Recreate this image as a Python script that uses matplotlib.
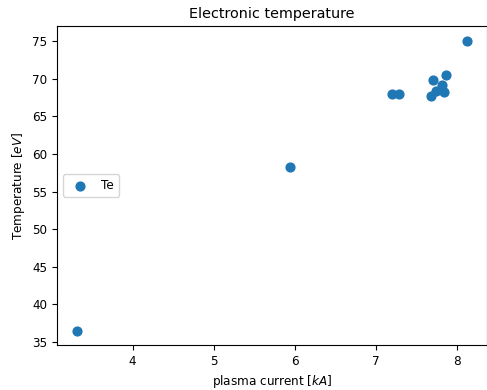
import matplotlib
matplotlib.use("Agg")
import matplotlib.pyplot as plt

current = [3.31, 5.94, 7.20, 7.28, 7.68, 7.70, 7.74, 7.81, 7.84, 7.86, 8.13]
temperature = [36.5, 58.2, 68.0, 68.0, 67.7, 69.9, 68.4, 69.2, 68.2, 70.5, 75.1]

plt.rcParams["font.size"] = 8.65

fig = plt.figure(figsize=(4.87, 3.9), dpi=100)
ax = fig.add_axes([57/487, 1-345/390, 430/487, (345-26)/390])
ax.scatter(current, temperature, label="Te", s=40)
ax.set_title("Electronic temperature", fontsize=10.4)
ax.set_xlabel("plasma current [$kA$]")
ax.set_ylabel("Temperature [$eV$]")
ax.legend(loc="center left")
fig.savefig("out.png", dpi=100)
